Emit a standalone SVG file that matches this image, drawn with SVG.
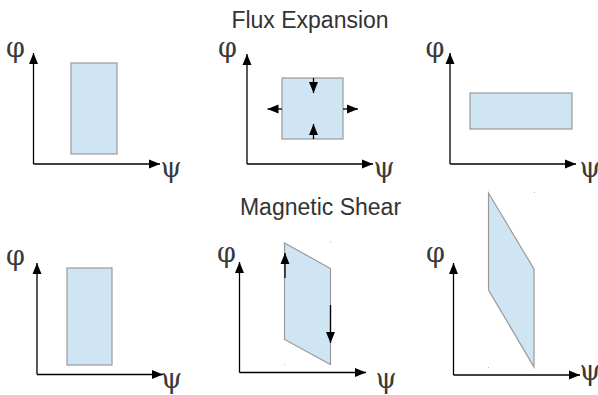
<svg xmlns="http://www.w3.org/2000/svg" width="598" height="395" viewBox="0 0 598 395">
<style>
.title{font-family:"Liberation Sans",Arial,sans-serif;font-size:23px;fill:#333;text-anchor:middle}
.sym{font-family:"DejaVu Serif",serif;font-size:27px;fill:#3a3a3a;text-anchor:middle}
.shape{fill:#cfe5f3;stroke:#999;stroke-width:1.2}
.axis{fill:none;stroke:#000;stroke-width:1.3}
.arr{fill:none;stroke:#000;stroke-width:1.3}
.dot{fill:#bbb}
</style>
<defs>
<marker id="ah" markerUnits="userSpaceOnUse" markerWidth="12" markerHeight="10" refX="11" refY="5" orient="auto">
<path d="M0,0.5 L11,5 L0,9.5 Z" fill="#000"/>
</marker>
<marker id="sh" markerUnits="userSpaceOnUse" markerWidth="12" markerHeight="10" refX="11" refY="5" orient="auto">
<path d="M0,0.5 L11,5 L0,9.5 Z" fill="#000"/>
</marker>
</defs>
<text class="title" x="310" y="28">Flux Expansion</text>
<text class="title" x="320.5" y="215">Magnetic Shear</text>

<g id="panel1">
<rect class="shape" x="71" y="63" width="46" height="91"/>
</g>
<g id="panel2">
<rect class="shape" x="282" y="78" width="61" height="61"/>
</g>
<g id="panel3">
<rect class="shape" x="470" y="93" width="102" height="36"/>
</g>
<g id="panel4">
<rect class="shape" x="67" y="268" width="45" height="97"/>
</g>
<g id="panel5">
<polygon class="shape" points="284.5,243 330.5,268.5 330.5,364.5 284.5,339.5"/>
<rect class="dot" x="330" y="241.5" width="1" height="1"/>
<rect class="dot" x="284.5" y="364.5" width="1" height="1"/>
</g>
<g id="panel6">
<polygon class="shape" points="488.5,193 534,269 534,367 488.5,290"/>
<rect class="dot" x="534" y="192" width="1" height="1"/>
<rect class="dot" x="488" y="367" width="1" height="1"/>
</g>

<g id="axes">
<path class="axis" d="M33.5,164 V53" marker-end="url(#ah)"/>
<path class="axis" d="M33.5,164 H160" marker-end="url(#ah)"/>
<path class="axis" d="M247,164 V54" marker-end="url(#ah)"/>
<path class="axis" d="M247,164 H373" marker-end="url(#ah)"/>
<path class="axis" d="M450,164 V53" marker-end="url(#ah)"/>
<path class="axis" d="M450,164 H576" marker-end="url(#ah)"/>
<path class="axis" d="M37,374.5 V263" marker-end="url(#ah)"/>
<path class="axis" d="M37,374.5 H163" marker-end="url(#ah)"/>
<path class="axis" d="M239.5,372.5 V262" marker-end="url(#ah)"/>
<path class="axis" d="M239.5,372.5 H366" marker-end="url(#ah)"/>
<path class="axis" d="M453.5,375 V263" marker-end="url(#ah)"/>
<path class="axis" d="M453.5,375 H580" marker-end="url(#ah)"/>
</g>

<g id="connectors">
<path class="arr" d="M313.5,78 V93" marker-end="url(#sh)"/>
<path class="arr" d="M313.5,139 V124" marker-end="url(#sh)"/>
<path class="arr" d="M282,109 H267.5" marker-end="url(#sh)"/>
<path class="arr" d="M343,109 H358" marker-end="url(#sh)"/>
<path class="arr" d="M285,278 V253" marker-end="url(#sh)"/>
<path class="arr" d="M330.5,305 V343" marker-end="url(#sh)"/>
</g>

<g id="labels">
<text class="sym" x="15.5" y="57">φ</text>
<text class="sym" x="171" y="177">ψ</text>
<text class="sym" x="227.5" y="57">φ</text>
<text class="sym" x="384" y="177">ψ</text>
<text class="sym" x="435" y="57">φ</text>
<text class="sym" x="590" y="177">ψ</text>
<text class="sym" x="15.5" y="265">φ</text>
<text class="sym" x="171.5" y="388">ψ</text>
<text class="sym" x="226.5" y="262">φ</text>
<text class="sym" x="386" y="388">ψ</text>
<text class="sym" x="435.5" y="262">φ</text>
<text class="sym" x="590" y="380">ψ</text>
</g>
</svg>
